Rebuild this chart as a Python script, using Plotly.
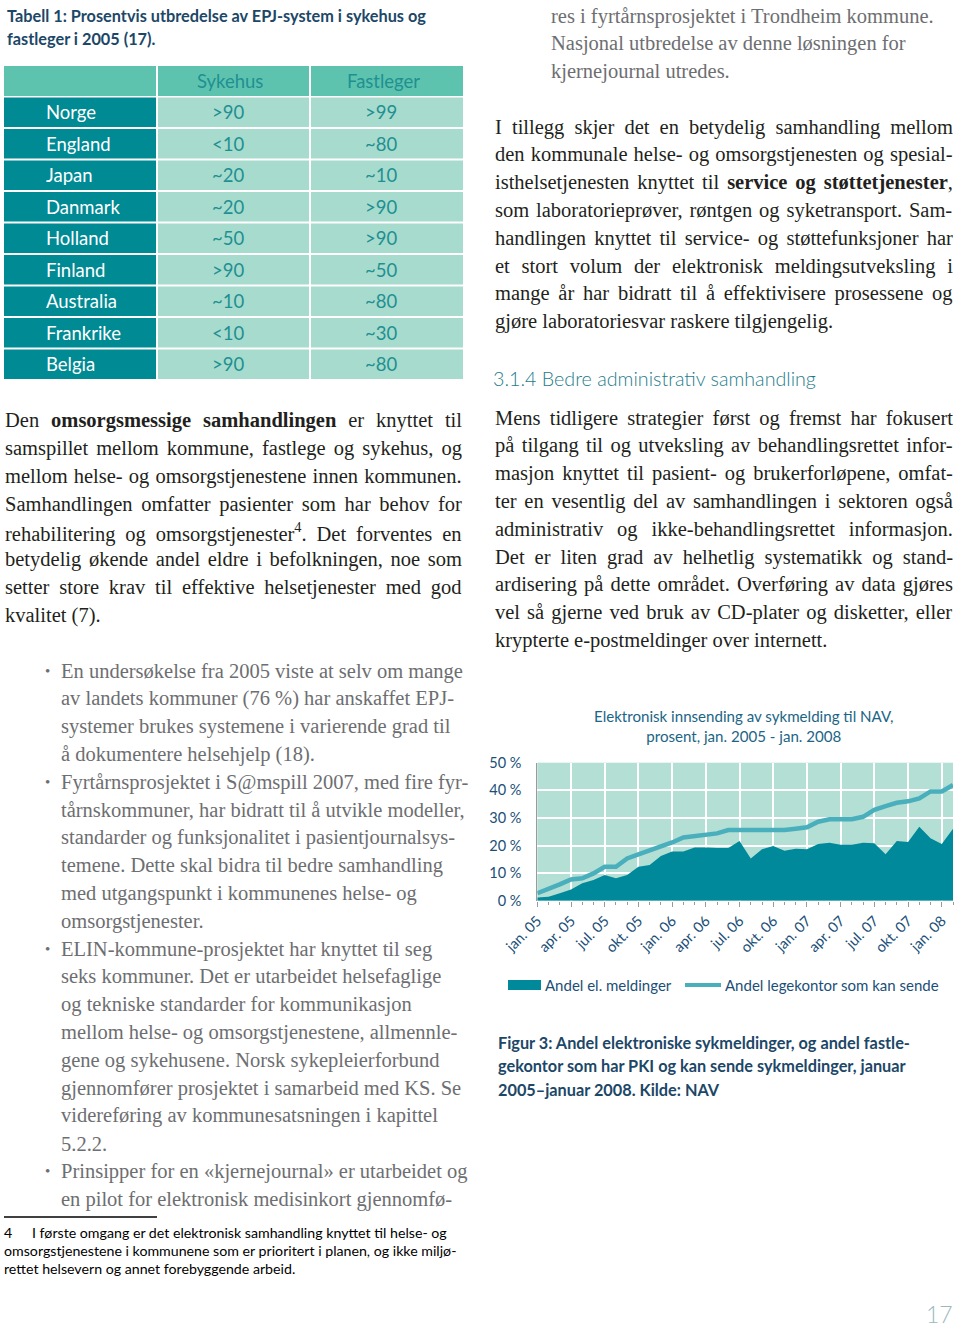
import plotly.graph_objects as go
import re

W, H = 960, 1329


def X(px):
    return px / W


def Y(py):
    return 1 - py / H


# ---------------- data ----------------
tick_labels = ["jan. 05", "apr. 05", "jul. 05", "okt. 05", "jan. 06", "apr. 06", "jul. 06",
               "okt. 06", "jan. 07", "apr. 07", "jul. 07", "okt. 07", "jan. 08"]
andel_el_meldinger = [1.2, 1.4, 2.7, 4.1, 6.3, 7.5, 9.3, 8.1, 9.3, 12.3, 12.9, 16.2, 17.8, 17.8,
                      19.3, 19.3, 19.1, 19.1, 21.6, 15.3, 18.6, 19.8, 18.1, 18.8, 18.6, 20.5,
                      21.0, 20.3, 20.3, 21.0, 20.8, 16.8, 21.6, 21.3, 26.8, 22.6, 20.5, 26.1]
andel_legekontor = [2.7, 4.1, 5.9, 7.7, 8.1, 9.9, 12.3, 12.3, 15.3, 16.8, 18.1, 19.6, 21.1, 22.9,
                    23.4, 23.9, 24.4, 25.6, 25.6, 25.6, 25.6, 25.6, 25.6, 26.1, 26.6, 28.6,
                    29.5, 29.5, 29.5, 30.4, 32.9, 34.3, 35.5, 36.0, 37.1, 39.6, 39.6, 41.9]

table_header = ["", "Sykehus", "Fastleger"]
countries = ["Norge", "England", "Japan", "Danmark", "Holland", "Finland", "Australia",
             "Frankrike", "Belgia"]
sykehus = [">90", "<10", "~20", "~20", "~50", ">90", "~10", "<10", ">90"]
fastleger = [">99", "~80", "~10", ">90", ">90", "~50", "~80", "~30", "~80"]

left_para = [
    "Den <b>omsorgsmessige samhandlingen</b> er knyttet til",
    "samspillet mellom kommune, fastlege og sykehus, og",
    "mellom helse- og omsorgstjenestene innen kommunen.",
    "Samhandlingen omfatter pasienter som har behov for",
    "rehabilitering og omsorgstjenester<sup>4</sup>. Det forventes en",
    "betydelig økende andel eldre i befolkningen, noe som",
    "setter store krav til effektive helsetjenester med god",
    "kvalitet (7).",
]
bullet_lines = [
    "En undersøkelse fra 2005 viste at selv om mange",
    "av landets kommuner (76 %) har anskaffet EPJ-",
    "systemer brukes systemene i varierende grad til",
    "å dokumentere helsehjelp (18).",
    "Fyrtårnsprosjektet i S@mspill 2007, med fire fyr-",
    "tårnskommuner, har bidratt til å utvikle modeller,",
    "standarder og funksjonalitet i pasientjournalsys-",
    "temene. Dette skal bidra til bedre samhandling",
    "med utgangspunkt i kommunenes helse- og",
    "omsorgstjenester.",
    "ELIN-kommune-prosjektet har knyttet til seg",
    "seks kommuner. Det er utarbeidet helsefaglige",
    "og tekniske standarder for kommunikasjon",
    "mellom helse- og omsorgstjenestene, allmennle-",
    "gene og sykehusene. Norsk sykepleierforbund",
    "gjennomfører prosjektet i samarbeid med KS. Se",
    "videreføring av kommunesatsningen i kapittel",
    "5.2.2.",
    "Prinsipper for en «kjernejournal» er utarbeidet og",
    "en pilot for elektronisk medisinkort gjennomfø-",
]
bullet_starts = [0, 4, 10, 18]
right_top = [
    "res i fyrtårnsprosjektet i Trondheim kommune.",
    "Nasjonal utbredelse av denne løsningen for",
    "kjernejournal utredes.",
]
right_para1 = [
    "I tillegg skjer det en betydelig samhandling mellom",
    "den kommunale helse- og omsorgstjenesten og spesial-",
    "isthelsetjenesten knyttet til <b>service og støttetjenester</b>,",
    "som laboratorieprøver, røntgen og syketransport. Sam-",
    "handlingen knyttet til service- og støttefunksjoner har",
    "et stort volum der elektronisk meldingsutveksling i",
    "mange år har bidratt til å effektivisere prosessene og",
    "gjøre laboratoriesvar raskere tilgjengelig.",
]
heading = "3.1.4 Bedre administrativ samhandling"
right_para2 = [
    "Mens tidligere strategier først og fremst har fokusert",
    "på tilgang til og utveksling av behandlingsrettet infor-",
    "masjon knyttet til pasient- og brukerforløpene, omfat-",
    "ter en vesentlig del av samhandlingen i sektoren også",
    "administrativ og ikke-behandlingsrettet informasjon.",
    "Det er liten grad av helhetlig systematikk og stand-",
    "ardisering på dette området. Overføring av data gjøres",
    "vel så gjerne ved bruk av CD-plater og disketter, eller",
    "krypterte e-postmeldinger over internett.",
]
table_title = ["Tabell 1: Prosentvis utbredelse av EPJ-system i sykehus og",
               "fastleger i 2005 (17)."]
chart_title = "Elektronisk innsending av sykmelding til NAV,<br>prosent, jan. 2005 - jan. 2008"
legend_names = ["Andel el. meldinger", "Andel legekontor som kan sende"]
fig_caption = ["Figur 3: Andel elektroniske sykmeldinger, og andel fastle-",
               "gekontor som har PKI og kan sende sykmeldinger, januar",
               "2005–januar 2008. Kilde: NAV"]
footnote = ["I første omgang er det elektronisk samhandling knyttet til helse- og",
            "omsorgstjenestene i kommunene som er prioritert i planen, og ikke miljø-",
            "rettet helsevern og annet forebyggende arbeid."]

# ---------------- style ----------------
SERIF = "Liberation Serif"
SANS = "Lato"
SERIF_SIZE = 20.5
BLACK = "#231f20"
GRAY = "#6d6e71"
NAVY = "#1c4767"
AREA = "#00899a"
LINE = "#4aafbd"
PLOTBG = "#b3dfd5"
TEAL_DARK = "#008a94"
TEAL_HEAD = "#5ec3ae"
TEAL_CELL = "#a7dbcd"
TEAL_TXT = "#1f9092"
AXIS_TXT = "#1b4f78"

# Times-compatible advance widths (per 1000 em) used to justify lines
_REG = {" ": 250, "!": 333, "%": 833, "(": 333, ")": 333, ",": 250, "-": 333, ".": 250,
        ":": 278, "@": 921, "«": 500, "»": 500, "–": 500,
        "A": 722, "B": 667, "C": 667, "D": 722, "E": 611, "F": 556, "G": 722, "H": 722,
        "I": 333, "J": 389, "K": 722, "L": 611, "M": 889, "N": 722, "O": 722, "P": 556,
        "Q": 722, "R": 667, "S": 556, "T": 611, "U": 722, "V": 722, "W": 944, "X": 722,
        "Y": 722, "Z": 611,
        "a": 444, "b": 500, "c": 444, "d": 500, "e": 444, "f": 333, "g": 500, "h": 500,
        "i": 278, "j": 278, "k": 500, "l": 278, "m": 778, "n": 500, "o": 500, "p": 500,
        "q": 500, "r": 333, "s": 389, "t": 278, "u": 500, "v": 500, "w": 722, "x": 500,
        "y": 500, "z": 444, "å": 444, "ø": 500, "æ": 667}
_BOLD = {" ": 250, ",": 250, "a": 500, "b": 556, "c": 444, "d": 556, "e": 444, "f": 333,
         "g": 500, "h": 556, "i": 278, "j": 333, "k": 556, "l": 278, "m": 833, "n": 556,
         "o": 500, "p": 556, "r": 444, "s": 389, "t": 333, "u": 556, "v": 500, "ø": 500}


def natural_width(line, size):
    total = 0.0
    mode = "reg"
    for part in re.split(r"(<[^>]+>)", line):
        if part.startswith("<"):
            tag = part.strip("</>")
            if part.startswith("</"):
                mode = "reg"
            elif tag == "b":
                mode = "bold"
            elif tag == "sup":
                mode = "sup"
            continue
        for ch in part:
            if mode == "bold":
                total += _BOLD.get(ch, _REG.get(ch, 500))
            elif mode == "sup":
                total += _REG.get(ch, 500) * 0.7
            else:
                total += _REG.get(ch, 500)
    return total * size / 1000.0


def justify(line, target, size):
    n_spaces = re.sub(r"<[^>]+>", "", line).count(" ")
    if n_spaces == 0:
        return line
    extra = (target - natural_width(line, size)) / n_spaces
    return '<span style="word-spacing:%.2fpx">%s</span>' % (extra, line)


fig = go.Figure()
x_idx = list(range(len(andel_el_meldinger)))
fig.add_trace(go.Scatter(x=x_idx, y=andel_el_meldinger, mode="none", fill="tozeroy",
                         fillcolor=AREA, name=legend_names[0], showlegend=False,
                         hoverinfo="skip"))
fig.add_trace(go.Scatter(x=x_idx, y=andel_legekontor, mode="lines",
                         line=dict(color=LINE, width=4.5), name=legend_names[1],
                         showlegend=False, hoverinfo="skip"))

annotations = []
shapes = []


def txt(x, y, text, size, color, family, anchor="left", weight=None):
    font = dict(size=size, color=color, family=family)
    if weight:
        font["weight"] = weight
    annotations.append(dict(x=X(x), y=Y(y), xref="paper", yref="paper", text=text,
                            showarrow=False, xanchor=anchor, yanchor="middle",
                            borderpad=0, borderwidth=0, font=font))


def rect(x0, y0, x1, y1, color):
    shapes.append(dict(type="rect", xref="paper", yref="paper", x0=X(x0), x1=X(x1),
                       y0=Y(y1), y1=Y(y0), fillcolor=color, line=dict(width=0),
                       layer="below"))


# table title
for i, t in enumerate(table_title):
    txt(7, 15 + i * 23, "<b>" + t + "</b>", 16.3, NAVY, SANS)

# table
col_x = [(4, 156), (158, 309), (311, 463)]
for c in range(3):
    rect(col_x[c][0], 66, col_x[c][1], 96, TEAL_HEAD)
txt(230, 81, table_header[1], 18.5, TEAL_TXT, SANS, "center")
txt(383, 81, table_header[2], 18.5, TEAL_TXT, SANS, "center")
row_h = 31.5
for r in range(len(countries)):
    y0 = 97.5 + r * row_h
    y1 = y0 + row_h - 2
    rect(col_x[0][0], y0, col_x[0][1], y1, TEAL_DARK)
    rect(col_x[1][0], y0, col_x[1][1], y1, TEAL_CELL)
    rect(col_x[2][0], y0, col_x[2][1], y1, TEAL_CELL)
    yc = (y0 + y1) / 2
    txt(46, yc, countries[r], 18.5, "white", SANS)
    txt(228, yc, sykehus[r], 18.5, TEAL_TXT, SANS, "center")
    txt(381, yc, fastleger[r], 18.5, TEAL_TXT, SANS, "center")

LH = 27.8
# left paragraph (justified except last line)
for i, t in enumerate(left_para):
    s = justify(t, 457, SERIF_SIZE) if i < len(left_para) - 1 else t
    txt(5, 421 + i * LH, s, SERIF_SIZE, BLACK, SERIF)

# bullets
for i, t in enumerate(bullet_lines):
    y = 671 + i * LH
    if i in bullet_starts:
        txt(45, y, "•", 15, GRAY, SERIF)
    txt(61, y, t, SERIF_SIZE, GRAY, SERIF)

# footnote
shapes.append(dict(type="line", xref="paper", yref="paper", x0=X(4), x1=X(157),
                   y0=Y(1217), y1=Y(1217), line=dict(color="black", width=1.5)))
FN = 14.2
txt(4, 1232, "4", FN, "black", SANS)
txt(32, 1232, footnote[0], FN, "black", SANS)
txt(4, 1250, footnote[1], FN, "black", SANS)
txt(4, 1268, footnote[2], FN, "black", SANS)

# right column
for i, t in enumerate(right_top):
    txt(551, 16 + i * LH, t, SERIF_SIZE, GRAY, SERIF)
for i, t in enumerate(right_para1):
    s = justify(t, 458, SERIF_SIZE) if i < len(right_para1) - 1 else t
    txt(495, 127 + i * LH, s, SERIF_SIZE, BLACK, SERIF)
txt(493, 379, heading, 19.7, "#1f7c8c", SANS, weight=300)
for i, t in enumerate(right_para2):
    s = justify(t, 458, SERIF_SIZE) if i < len(right_para2) - 1 else t
    txt(495, 418 + i * LH, s, SERIF_SIZE, BLACK, SERIF)

# chart title
annotations.append(dict(x=X(744), y=Y(726), xref="paper", yref="paper", text=chart_title,
                        showarrow=False, xanchor="center", yanchor="middle", align="center",
                        font=dict(size=15.1, color="#1b6585", family=SANS)))

# legend (drawn manually)
rect(508, 980, 541, 990, AREA)
shapes.append(dict(type="line", xref="paper", yref="paper", x0=X(685), x1=X(721),
                   y0=Y(985), y1=Y(985), line=dict(color=LINE, width=4)))
txt(545, 985, legend_names[0], 15, AXIS_TXT, SANS)
txt(725, 985, legend_names[1], 15, AXIS_TXT, SANS)

# figure caption
for i, t in enumerate(fig_caption):
    txt(498, 1042 + i * 23.5, "<b>" + t + "</b>", 16.3, NAVY, SANS)

# page number
txt(926, 1314, "17", 23, "#9ab7be", SANS, weight=300)

fig.update_layout(
    width=W, height=H, margin=dict(l=0, r=0, t=0, b=0, autoexpand=False),
    paper_bgcolor="white", plot_bgcolor=PLOTBG,
    annotations=annotations, shapes=shapes, showlegend=False,
    xaxis=dict(domain=[X(537.3), X(953)], range=[0, 37], tickmode="array",
               tickvals=list(range(0, 37, 3)), ticktext=tick_labels, tickangle=-45,
               showgrid=True, gridcolor="white", gridwidth=1.5, zeroline=False,
               ticks="outside", ticklen=5, tickcolor="#9a9a9a", automargin=False,
               minor=dict(dtick=1, ticks="outside", ticklen=3, tickcolor="#9a9a9a",
                          showgrid=False),
               tickfont=dict(size=14.5, color=AXIS_TXT, family=SANS), fixedrange=True),
    yaxis=dict(domain=[Y(900.7), Y(762.7)], range=[0, 50], dtick=10, ticksuffix=" %",
               showgrid=True, gridcolor="white", gridwidth=1.5, zeroline=False,
               showline=True, linecolor="#9a9a9a", linewidth=1, automargin=False,
               ticks="", ticklabelstandoff=12,
               tickfont=dict(size=14.5, color=AXIS_TXT, family=SANS), fixedrange=True),
)

fig.write_html("out.html", config={"displayModeBar": False},
               post_script="document.body.style.margin='0';"
                           "document.body.style.overflow='hidden';")
